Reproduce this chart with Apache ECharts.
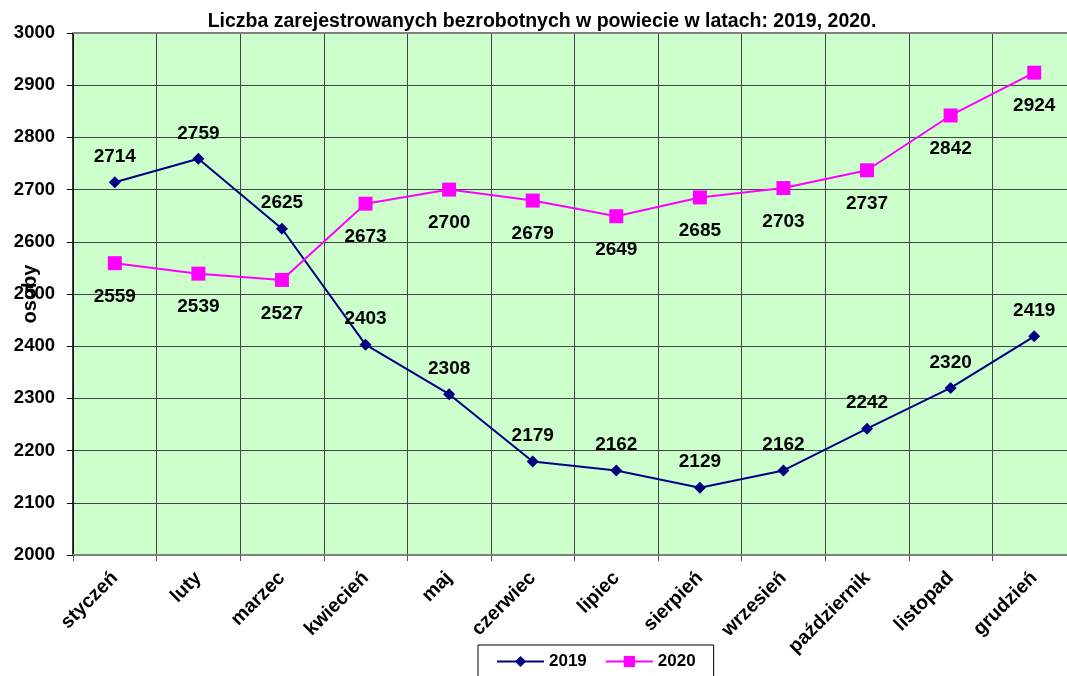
<!DOCTYPE html>
<html><head><meta charset="utf-8">
<script src="https://cdn.jsdelivr.net/npm/echarts@6/dist/echarts.min.js"></script>
<style>html,body{margin:0;padding:0;background:#fff}#c{width:1067px;height:676px}</style>
</head><body><div id="c"></div>
<script>
const categories = ['styczeń','luty','marzec','kwiecień','maj','czerwiec','lipiec','sierpień','wrzesień','październik','listopad','grudzień'];
const values2019 = [2714, 2759, 2625, 2403, 2308, 2179, 2162, 2129, 2162, 2242, 2320, 2419];
const values2020 = [2559, 2539, 2527, 2673, 2700, 2679, 2649, 2685, 2703, 2737, 2842, 2924];
const F = 'Arial, "Liberation Sans", sans-serif';
const chart = echarts.init(document.getElementById('c'), null, {renderer:'canvas'});
chart.setOption({
  animation:false,
  title:{text:'Liczba zarejestrowanych bezrobotnych w powiecie w latach: 2019, 2020.', left:537, textAlign:'center', top:7,
    textStyle:{fontFamily:F, fontSize:19.5, fontWeight:'bold', color:'#000'}},
  grid:{left:73, top:33, width:1003, height:522, show:true, backgroundColor:'#CCFFCC', borderWidth:0, containLabel:false, outerBoundsMode:'none'},
  legend:{top:645, left:478, width:238, padding:[8,18,8,18], borderColor:'#000', borderWidth:1, itemWidth:47, itemHeight:14, itemGap:18,
    textStyle:{fontFamily:F, fontSize:17, fontWeight:'bold', color:'#000'}, data:['2019','2020']},
  xAxis:{type:'category', data:categories, boundaryGap:true,
    axisLine:{lineStyle:{color:'#808080', width:2}},
    axisTick:{show:true, length:6, lineStyle:{color:'#555'}},
    axisLabel:{rotate:45, margin:20, interval:0, fontFamily:F, fontSize:19.5, fontWeight:'bold', color:'#000'},
    splitLine:{show:true, interval:0, lineStyle:{color:'#444', width:1}}},
  yAxis:{type:'value', min:2000, max:3000, interval:100, name:'osoby', nameLocation:'middle', nameGap:33, nameRotate:90, nameMoveOverlap:false,
    nameTextStyle:{fontFamily:F, fontSize:20, fontWeight:'bold', color:'#000'},
    axisLine:{show:true, lineStyle:{color:'#000', width:1.5}},
    axisTick:{show:true, length:6, lineStyle:{color:'#000'}},
    axisLabel:{margin:18, fontFamily:F, fontSize:18.5, fontWeight:'bold', color:'#000', formatter:v => String(v)},
    splitLine:{show:true, lineStyle:{color:'#444', width:1}}},
  series:[
    {name:'2019', type:'line', data:values2019, symbol:'diamond', symbolSize:12,
      lineStyle:{color:'#000080', width:2}, itemStyle:{color:'#000080'},
      label:{show:true, position:'top', distance:10, fontFamily:F, fontSize:19, fontWeight:'bold', color:'#000'}},
    {name:'2020', type:'line', data:values2020, symbol:'rect', symbolSize:14,
      lineStyle:{color:'#FF00FF', width:2}, itemStyle:{color:'#FF00FF'},
      label:{show:true, position:'bottom', distance:17, fontFamily:F, fontSize:19, fontWeight:'bold', color:'#000'}}
  ]
});
chart.setOption({graphic:[{type:'line', shape:{x1:73,y1:33,x2:1067,y2:33}, style:{stroke:'#808080', lineWidth:2}, z:10}]});
</script></body></html>
